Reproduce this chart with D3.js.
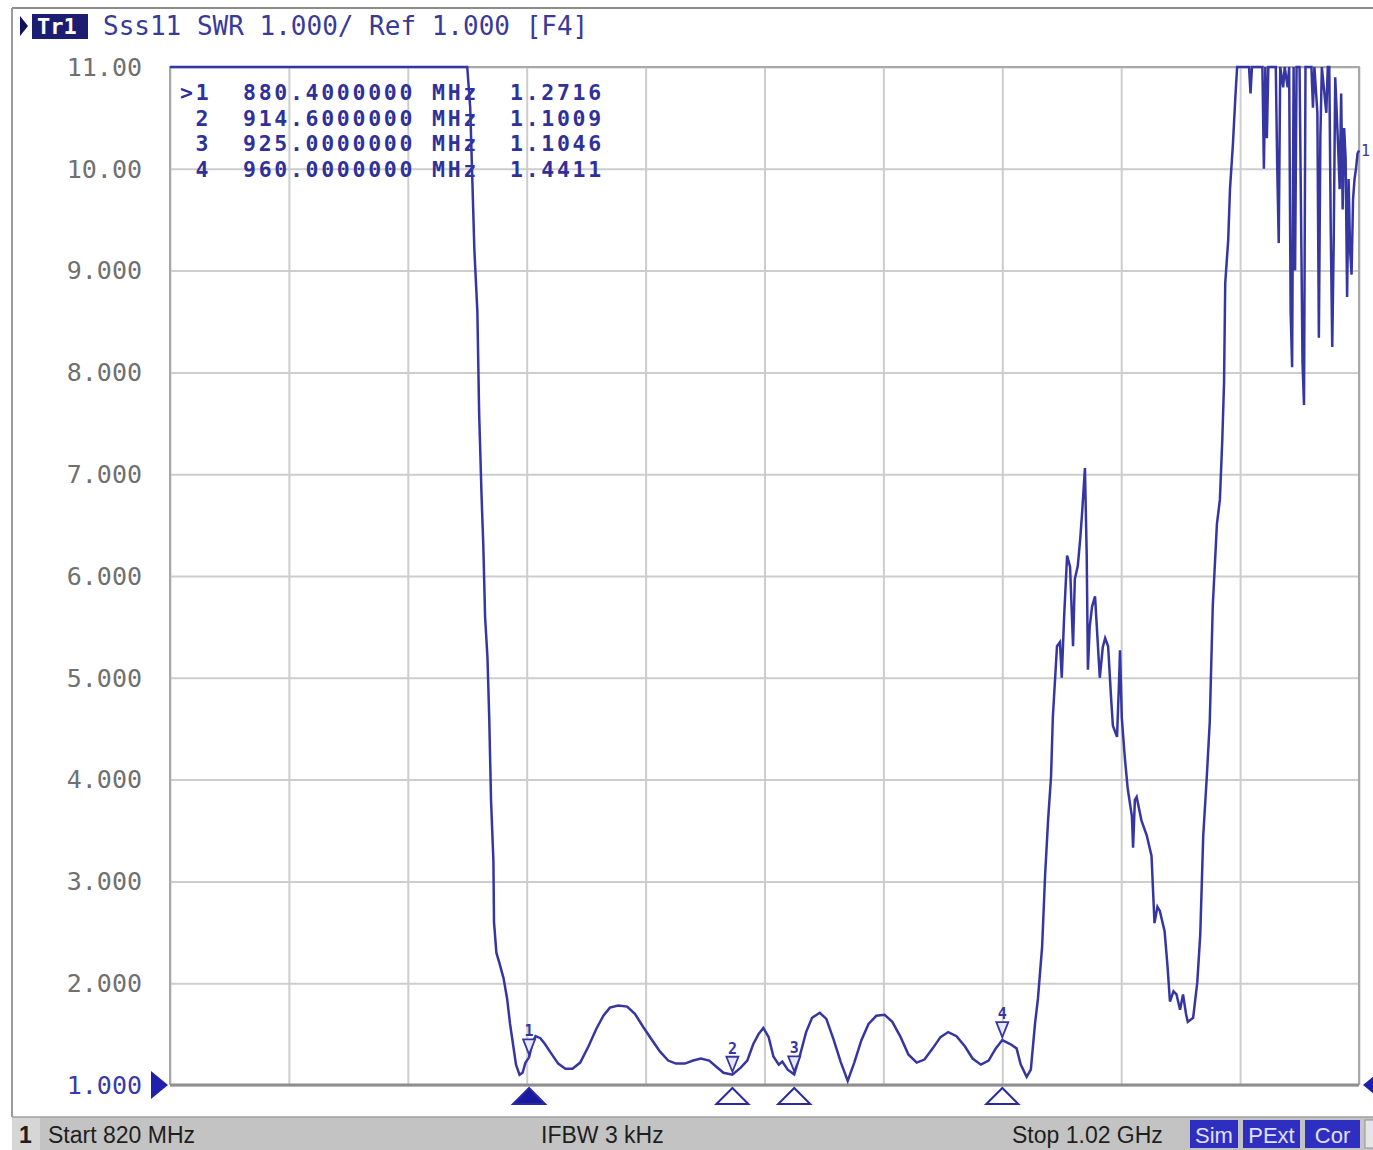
<!DOCTYPE html>
<html>
<head>
<meta charset="utf-8">
<script src="https://cdn.jsdelivr.net/npm/d3@7/dist/d3.min.js"></script>
<style>
  html, body { margin: 0; padding: 0; background: #ffffff; }
  svg { display: block; }
  .mono { font-family: "DejaVu Sans Mono", "Liberation Mono", monospace; }
  .sans { font-family: "Liberation Sans", Arial, sans-serif; }
</style>
</head>
<body>
<svg id="chart" width="1373" height="1150"></svg>
<script>
// ---------------- DATA ----------------
const headerTrace = "Tr1";
const headerText = "Sss11 SWR 1.000/ Ref 1.000 [F4]";

const yTicks = [1, 2, 3, 4, 5, 6, 7, 8, 9, 10, 11];
const yTickLabels = ["1.000", "2.000", "3.000", "4.000", "5.000", "6.000", "7.000", "8.000", "9.000", "10.00", "11.00"];
const xTicks = [820, 840, 860, 880, 900, 920, 940, 960, 980, 1000, 1020];

const markerNums = [1, 2, 3, 4];
const markerFreqs = [880.4, 914.6, 925.0, 960.0];
const markerFreqLabels = ["880.4000000", "914.6000000", "925.0000000", "960.0000000"];
const markerVals = [1.2716, 1.1009, 1.1046, 1.4411];
const markerValLabels = ["1.2716", "1.1009", "1.1046", "1.4411"];

const statusStart = "Start 820 MHz";
const statusIfbw = "IFBW 3 kHz";
const statusStop = "Stop 1.02 GHz";
const statusFlags = ["Sim", "PExt", "Cor"];

// trace: frequency (MHz) and SWR
const traceFreq = [
  820, 830, 840, 850, 860, 866, 869, 870.0,
  870.5, 870.8, 871.2, 871.7, 872.0, 872.4, 872.7, 873.0, 873.4, 873.7, 874.0, 874.4, 874.5, 874.9,
  875.4, 876.1, 876.7, 877.2, 877.7, 878.2, 878.8, 879.3, 879.8, 880.4, 881.0, 881.5, 882.3, 883.1,
  884.0, 885.3, 886.5, 887.7, 889.0, 890.4, 891.7, 892.9, 894.0, 895.4, 896.9, 898.2, 899.6, 901.1,
  902.4, 903.8, 905.1, 906.6, 908.0, 909.3, 910.7, 911.9, 913.1, 914.6, 916.0, 917.1, 918.1, 919.0,
  919.8, 920.7, 921.5, 922.4, 923.0, 923.9, 925.0, 926.0, 927.0, 928.0, 929.3, 930.4, 931.6, 932.8,
  934.0, 935.1, 936.3, 937.5, 938.8, 940.2, 941.5, 942.9, 944.2, 945.6, 946.9, 948.3, 949.6, 950.9,
  952.3, 953.7, 955.0, 956.4, 957.7, 958.9, 960.0, 961.4, 962.4, 963.1, 964.1, 964.8, 965.5, 966.0,
  966.7, 967.2, 967.7, 968.2, 968.5, 969.2, 969.7, 970.0, 970.4, 970.9, 971.4, 971.9, 972.2, 972.7,
  973.1, 973.4, 973.9, 974.2, 974.4, 974.7, 975.1, 975.6, 975.9, 976.4, 976.9, 977.3, 977.8, 978.3,
  978.6, 979.3, 979.6, 979.8, 980.1, 980.6, 981.1, 981.8, 982.0, 982.3, 982.6, 983.4, 984.3, 985.1,
  985.6, 986.1, 986.5, 987.3, 987.8, 988.2, 988.8, 989.3, 989.9, 990.4, 990.9, 991.2, 992.1, 992.8,
  993.3, 993.8, 994.4, 994.9, 995.4, 996.1, 996.6, 997.0, 997.3, 997.5, 998.0, 998.3, 998.8, 999.2,
  999.5, 1000.5, 1001.5, 1001.75, 1002.0, 1003.0, 1003.75, 1004.0, 1004.25, 1004.5, 1004.75, 1005.5,
  1006.0, 1006.25, 1006.5, 1006.75, 1007.25, 1007.5, 1008.0, 1008.25, 1008.5, 1008.75, 1009.0, 1009.25,
  1009.5, 1010.0, 1010.5, 1010.75, 1011.0, 1011.5, 1012.0, 1012.25, 1012.5, 1013.0, 1013.25, 1013.5,
  1013.75, 1014.5, 1014.75, 1015.0, 1015.25, 1015.5, 1015.75, 1016.0, 1016.5, 1016.75, 1017.0, 1017.25,
  1017.5, 1017.75, 1018.0, 1018.25, 1018.5, 1018.75, 1019.0, 1019.25, 1019.5, 1019.75, 1020.0
];
const traceSwr = [
  16, 18, 20, 19, 17, 14, 12.5, 11.2,
  10.6, 10.0, 9.2, 8.6, 7.6, 6.8, 6.3, 5.6, 5.2, 4.6, 3.8, 3.2, 2.6, 2.3,
  2.2, 2.05, 1.85, 1.6, 1.4, 1.2, 1.1, 1.12, 1.22, 1.2716, 1.42, 1.48, 1.46, 1.40,
  1.32, 1.21, 1.16, 1.16, 1.22, 1.38, 1.55, 1.68, 1.76, 1.78, 1.77, 1.70, 1.57, 1.44,
  1.33, 1.24, 1.21, 1.21, 1.24, 1.26, 1.24, 1.18, 1.12, 1.1009, 1.17, 1.24, 1.40, 1.50,
  1.56, 1.47, 1.28, 1.20, 1.23, 1.15, 1.1046, 1.30, 1.52, 1.66, 1.71, 1.65, 1.45, 1.23,
  1.04, 1.22, 1.44, 1.60, 1.68, 1.69, 1.62, 1.47, 1.30, 1.22, 1.25, 1.36, 1.47, 1.52,
  1.48, 1.38, 1.26, 1.20, 1.24, 1.36, 1.4411, 1.40, 1.36, 1.20, 1.08, 1.15, 1.60, 1.85,
  2.36, 3.06, 3.60, 4.03, 4.61, 5.31, 5.35, 5.00, 5.60, 6.20, 6.09, 5.31, 5.97, 6.10,
  6.36, 6.60, 7.06, 6.20, 5.08, 5.50, 5.70, 5.80, 5.50, 5.00, 5.30, 5.39, 5.31, 4.80,
  4.53, 4.42, 4.90, 5.27, 4.61, 4.22, 3.91, 3.64, 3.33, 3.80, 3.83, 3.60, 3.45, 3.25,
  2.59, 2.75, 2.71, 2.51, 2.16, 1.82, 1.92, 1.89, 1.74, 1.89, 1.70, 1.62, 1.66, 2.01,
  2.48, 3.45, 4.03, 4.57, 5.70, 6.51, 6.75, 7.33, 7.90, 8.88, 9.30, 9.80, 10.25, 10.70,
  11.5, 13, 12, 10.74, 12, 13, 12, 10.0, 11.5, 10.3, 12, 13,
  11.5, 10.0, 9.27, 12, 10.8, 12, 10.8, 12, 8.6, 8.05, 12, 9.0,
  12, 12, 8.1, 7.68, 11.2, 12, 12, 10.6, 12, 10.55, 8.34, 10.3,
  12, 10.55, 12, 11.5, 9.4, 8.25, 9.3, 10.9, 10.2, 9.8, 10.74, 9.6,
  10.4, 10.1, 8.74, 9.9, 9.2, 8.96, 9.7, 9.9, 10.0, 10.15, 10.18
];

// ---------------- LAYOUT ----------------
const W = 1373, H = 1150;
const plot = { left: 170, right: 1359, top: 67, bottom: 1085 };

const svg = d3.select("#chart");
const x = d3.scaleLinear().domain([820, 1020]).range([plot.left, plot.right]);
const y = d3.scaleLinear().domain([1, 11]).range([plot.bottom, plot.top]).clamp(true);

const blue = "#3636a2";
const gridCol = "#cdcdcd";

// outer frame
svg.append("line").attr("x1", 12).attr("x2", W).attr("y1", 8).attr("y2", 8)
  .attr("stroke", "#8c8c8c").attr("stroke-width", 2);
svg.append("line").attr("x1", 12).attr("x2", 12).attr("y1", 8).attr("y2", 1117)
  .attr("stroke", "#9a9a9a").attr("stroke-width", 2);

// header
svg.append("path").attr("d", "M20,16 L28,26 L20,36 Z").attr("fill", "#101060");
svg.append("rect").attr("x", 32).attr("y", 14).attr("width", 56).attr("height", 25).attr("fill", "#1c1c70");
svg.append("text").attr("class", "mono").attr("x", 37).attr("y", 34)
  .attr("font-size", 22).attr("font-weight", "bold").attr("fill", "#ffffff").text(headerTrace);
svg.append("text").attr("class", "mono").attr("x", 103).attr("y", 35)
  .attr("font-size", 26).attr("fill", "#3a3a98").style("white-space", "pre").text(headerText);

// y grid + labels
const yAxis = d3.axisLeft(y).tickValues(yTicks)
  .tickFormat((d, i) => yTickLabels[i])
  .tickSize(-(plot.right - plot.left)).tickPadding(28);
const gy = svg.append("g").attr("transform", `translate(${plot.left},0)`).call(yAxis);
gy.select(".domain").remove();
gy.selectAll(".tick line").attr("stroke", gridCol).attr("stroke-width", 2);
gy.selectAll(".tick text").attr("class", "mono").attr("font-size", 25)
  .attr("fill", d => d === 1 ? "#3a3aa8" : "#707070")
  .attr("dy", "0.33em");

// x grid
const xAxis = d3.axisBottom(x).tickValues(xTicks).tickFormat("")
  .tickSize(-(plot.bottom - plot.top));
const gx = svg.append("g").attr("transform", `translate(0,${plot.bottom})`).call(xAxis);
gx.select(".domain").remove();
gx.selectAll(".tick line").attr("stroke", gridCol).attr("stroke-width", 2);

// plot border
svg.append("path")
  .attr("d", `M${plot.left},${plot.bottom} V${plot.top} H${plot.right} V${plot.bottom}`)
  .attr("fill", "none").attr("stroke", "#a8a8a8").attr("stroke-width", 2);
svg.append("line").attr("x1", plot.left).attr("x2", plot.right)
  .attr("y1", plot.bottom).attr("y2", plot.bottom)
  .attr("stroke", "#8e8e8e").attr("stroke-width", 3);

// marker table (tight rows as in the instrument display)
const table = svg.append("g").attr("class", "mono").attr("font-size", 21.5)
  .attr("font-weight", "bold").attr("letter-spacing", 2.7).attr("fill", "#30309a");
markerNums.forEach((m, i) => {
  const by = 100 + i * 25.7;
  table.append("text").attr("x", 180 + (i === 0 ? 0 : 15.6)).attr("y", by)
    .text(i === 0 ? ">" + m : String(m));
  table.append("text").attr("x", 243).attr("y", by).text(markerFreqLabels[i]);
  table.append("text").attr("x", 432).attr("y", by).text("MHz");
  table.append("text").attr("x", 510).attr("y", by).text(markerValLabels[i]);
});

// trace
const pts = traceFreq.map((f, i) => ({ f, v: traceSwr[i] }));
const line = d3.line().x(d => x(d.f)).y(d => y(d.v));
svg.append("path").datum(pts).attr("d", line)
  .attr("fill", "none").attr("stroke", blue).attr("stroke-width", 2.5)
  .attr("stroke-linejoin", "miter");

// trace end label
svg.append("text").attr("class", "mono").attr("x", 1361).attr("y", 156)
  .attr("font-size", 15).attr("fill", blue).text("1");

// markers on trace + at bottom
markerNums.forEach((m, i) => {
  const mx = x(markerFreqs[i]);
  const my = y(markerVals[i]);
  svg.append("path")
    .attr("d", `M${mx},${my - 3} L${mx - 6},${my - 18} L${mx + 6},${my - 18} Z`)
    .attr("fill", "#e8e8ff").attr("stroke", blue).attr("stroke-width", 1.8);
  svg.append("text").attr("class", "mono").attr("x", mx).attr("y", my - 21)
    .attr("text-anchor", "middle").attr("font-size", 15).attr("font-weight", "bold")
    .attr("fill", blue).text(m);
  svg.append("path")
    .attr("d", `M${mx},${plot.bottom + 3} L${mx - 16},${plot.bottom + 19} L${mx + 16},${plot.bottom + 19} Z`)
    .attr("fill", i === 0 ? "#1a1aa0" : "none")
    .attr("stroke", "#2a2aa0").attr("stroke-width", 2);
});

// reference level pointers
svg.append("path").attr("d", `M151,${plot.bottom - 14} L168,${plot.bottom} L151,${plot.bottom + 14} Z`).attr("fill", "#2020b0");
svg.append("path").attr("d", `M1363,${plot.bottom} L1380,${plot.bottom - 14} L1380,${plot.bottom + 14} Z`).attr("fill", "#2020b0");

// status bar
svg.append("rect").attr("x", 12).attr("y", 1117).attr("width", W - 12).attr("height", H - 1117).attr("fill", "#c3c3c3");
svg.append("rect").attr("x", 12).attr("y", 1117).attr("width", 28).attr("height", H - 1117).attr("fill", "#d6d6d6");
svg.append("line").attr("x1", 12).attr("x2", W).attr("y1", 1117).attr("y2", 1117).attr("stroke", "#a0a0a0").attr("stroke-width", 1.5);
const sb = svg.append("g").attr("class", "sans").attr("font-size", 23).attr("fill", "#1e1e1e");
sb.append("text").attr("x", 19).attr("y", 1143).attr("font-weight", "bold").text("1");
sb.append("text").attr("x", 48).attr("y", 1143).text(statusStart);
sb.append("text").attr("x", 541).attr("y", 1143).text(statusIfbw);
sb.append("text").attr("x", 1012).attr("y", 1143).text(statusStop);
const flagX = [1190, 1243, 1305];
const flagW = [48, 57, 55];
statusFlags.forEach((s, i) => {
  svg.append("rect").attr("x", flagX[i]).attr("y", 1120).attr("width", flagW[i]).attr("height", 28).attr("fill", "#2e2ec0");
  svg.append("text").attr("class", "sans").attr("x", flagX[i] + flagW[i] / 2).attr("y", 1143)
    .attr("text-anchor", "middle").attr("font-size", 22).attr("fill", "#e0e0ff").text(s);
});
svg.append("rect").attr("x", 1365).attr("y", 1120).attr("width", 10).attr("height", 28).attr("fill", "#e6e6e6").attr("stroke", "#9090a0");
</script>
</body>
</html>
